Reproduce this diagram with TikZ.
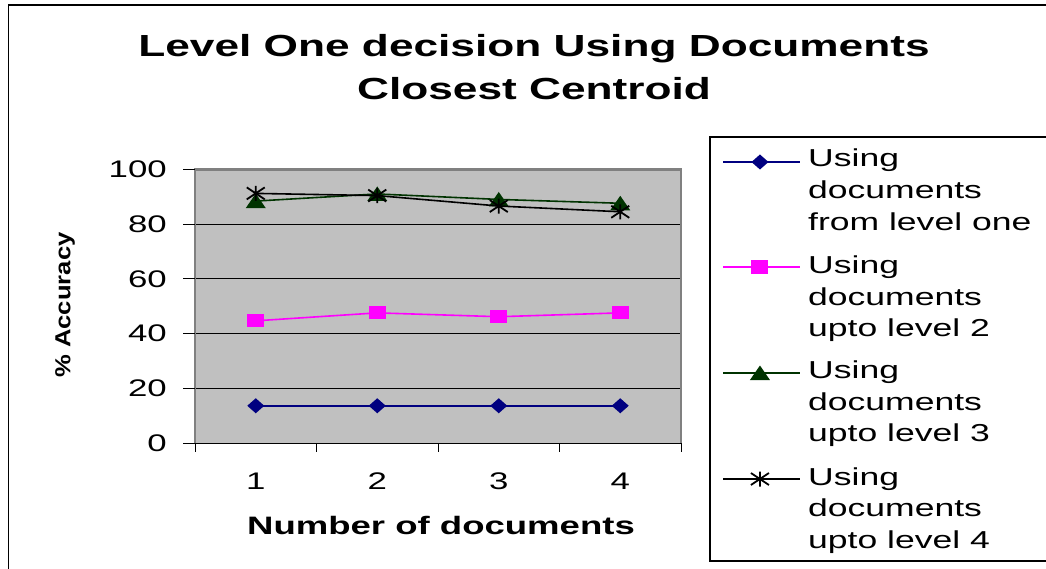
\documentclass[tikz,border=0pt]{standalone}
\usepackage{fontspec}
\usetikzlibrary{calc}
\setmainfont{Liberation Sans}
\newfontfamily\widefont[FakeStretch=1.45]{Liberation Sans}
\definecolor{plotgray}{HTML}{C0C0C0}
\definecolor{framegray}{HTML}{808080}
\definecolor{sNavy}{HTML}{000080}
\definecolor{sMagenta}{HTML}{FF00FF}
\definecolor{sGreen}{HTML}{003300}
\tikzset{
  seriesline/.style={line width=1.6pt, line join=round},
  gridline/.style={line width=1pt, black},
  ticklabel/.style={font=\widefont\fontsize{24}{24}\selectfont, inner sep=0pt},
  legendtext/.style={font=\widefont\fontsize{24.5}{31.7}\selectfont, align=left, inner sep=0pt, anchor=base west},
  mdiamond/.pic={\fill[sNavy] (-8.5,0) -- (0,-7.5) -- (8.5,0) -- (0,7.5) -- cycle;},
  msquare/.pic={\fill[sMagenta] (-8.5,-6.5) rectangle (8.5,6.5);},
  mtriangle/.pic={\fill[sGreen] (-10,7) -- (0,-7.5) -- (10,7) -- cycle;},
  mstar/.pic={\draw[black, line width=1.8pt] (-9,-6) -- (9,6) (-9,6) -- (9,-6) (0,-7.5) -- (0,7.5);},
}
\begin{document}
\begin{tikzpicture}[x=1pt, y=-1pt]
\useasboundingbox (0,0) rectangle (1046,569);
\fill[white] (0,0) rectangle (1046,569);

% chart frame (right and bottom edges run off the page)
\draw[line width=1.8pt] (8.5,600) -- (8.5,5) -- (1100,5);

% title (anchored on the baseline of its last line)
\node[font=\widefont\bfseries\fontsize{30.5}{43}\selectfont, align=center, inner sep=0pt, anchor=base] (title) at (534,100)
  {Level One decision Using Documents\\Closest Centroid};

% plot area
\fill[plotgray] (195,169.3) rectangle (681,443.3);
\foreach \v in {20,40,60,80}
  \draw[gridline] (183,{443.3-2.74*\v}) -- (681,{443.3-2.74*\v});
\draw[framegray, line width=2.5pt] (195,443.3) -- (195,169.3) -- (681,169.3) -- (681,443.3);
\foreach \v in {0,20,...,100}
  \draw[gridline] (183,{443.3-2.74*\v}) -- (195,{443.3-2.74*\v});
\draw[line width=1.2pt] (183,443.3) -- (682,443.3);
\foreach \i in {0,...,4}
  \draw[gridline] ({195+121.5*\i},443.3) -- ({195+121.5*\i},452);

% tick labels
\foreach \v in {0,20,...,100}
  \node[ticklabel, anchor=east] (y\v) at (167,{443.3-2.74*\v}) {\v};
\foreach \i in {1,...,4}
  \node[ticklabel] (x\i) at ({195+121.5*(\i-0.5)},481) {\i};

% axis titles
\node[font=\widefont\bfseries\fontsize{25.2}{25.2}\selectfont, inner sep=0pt] (xtitle) at (441,525) {Number of documents};
\node[rotate=90, inner sep=0pt, font=\bfseries\fontsize{25.6}{25.6}\selectfont] (ytitle) at (65,305)
  {\scalebox{1}[0.85]{\% Accuracy}};

% data points
\begin{scope}[shift={(0pt,-443.3pt)}, x=1pt, y=2.74pt]
  \coordinate (a1) at (255.75,13.7);  \coordinate (a2) at (377.25,13.7);
  \coordinate (a3) at (498.75,13.7);  \coordinate (a4) at (620.25,13.7);
  \coordinate (b1) at (255.75,44.7);  \coordinate (b2) at (377.25,47.6);
  \coordinate (b3) at (498.75,46.2);  \coordinate (b4) at (620.25,47.6);
  \coordinate (c1) at (255.75,88.4);  \coordinate (c2) at (377.25,91.0);
  \coordinate (c3) at (498.75,89.0);  \coordinate (c4) at (620.25,87.6);
  \coordinate (d1) at (255.75,91.2);  \coordinate (d2) at (377.25,90.4);
  \coordinate (d3) at (498.75,86.6);  \coordinate (d4) at (620.25,84.5);
\end{scope}

% series
\draw[seriesline, sNavy] (a1) -- (a2) -- (a3) -- (a4);
\foreach \i in {1,...,4} \pic at (a\i) {mdiamond};
\draw[seriesline, sMagenta] (b1) -- (b2) -- (b3) -- (b4);
\foreach \i in {1,...,4} \pic at (b\i) {msquare};
\draw[seriesline, sGreen] (c1) -- (c2) -- (c3) -- (c4);
\foreach \i in {1,...,4} \pic at (c\i) {mtriangle};
\draw[seriesline, black] (d1) -- (d2) -- (d3) -- (d4);
\foreach \i in {1,...,4} \pic at (d\i) {mstar};

% legend
\draw[line width=1.2pt] (710,137) rectangle (1100,561);
\coordinate (l1a) at (723,162); \coordinate (l1b) at (800,162);
\coordinate (l2a) at (723,267); \coordinate (l2b) at (800,267);
\coordinate (l3a) at (723,373); \coordinate (l3b) at (800,373);
\coordinate (l4a) at (723,479); \coordinate (l4b) at (800,479);
\draw[seriesline, sNavy] (l1a) -- (l1b);
\pic at ($(l1a)!0.48!(l1b)$) {mdiamond};
\draw[seriesline, sMagenta] (l2a) -- (l2b);
\pic at ($(l2a)!0.48!(l2b)$) {msquare};
\draw[seriesline, sGreen] (l3a) -- (l3b);
\pic at ($(l3a)!0.48!(l3b)$) {mtriangle};
\draw[seriesline, black] (l4a) -- (l4b);
\pic at ($(l4a)!0.48!(l4b)$) {mstar};
% legend entries, anchored on the baseline of their last line
\node[legendtext] (t1) at (808,230.1) {Using\\documents\\from level one};
\node[legendtext] (t2) at (808,336.7) {Using\\documents\\upto level 2};
\node[legendtext] (t3) at (808,441.9) {Using\\documents\\upto level 3};
\node[legendtext] (t4) at (808,548.4) {Using\\documents\\upto level 4};
\end{tikzpicture}
\end{document}
